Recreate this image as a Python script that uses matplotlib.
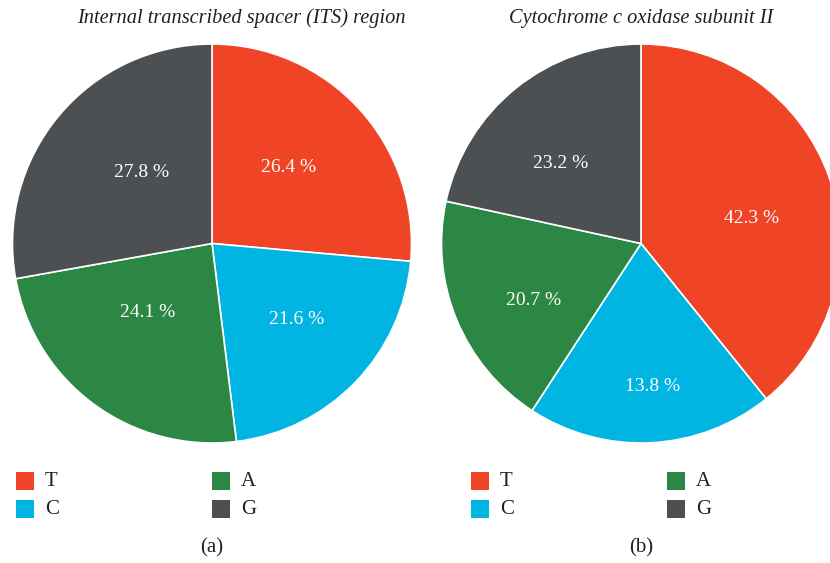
import numpy as np
import matplotlib
matplotlib.use("Agg")
import matplotlib.pyplot as plt
from matplotlib.patches import Rectangle

categories = ["T", "C", "A", "G"]
# ITS region: wedge sizes and printed labels agree
its_values = [26.4, 21.6, 24.1, 27.8]
its_labels = [26.4, 21.6, 24.1, 27.8]
# COX II: wedge sizes as drawn in the picture, and the printed labels
cox_values = [39.2, 20.0, 19.2, 21.6]
cox_labels = [42.3, 13.8, 20.7, 23.2]
titles = ["Internal transcribed spacer (ITS) region", "Cytochrome c oxidase subunit II"]
subcaptions = ["(a)", "(b)"]

colors = ["#EF4426", "#00B5E2", "#2B8743", "#4D5052"]
label_radius = [[0.54, 0.57, 0.47, 0.50], [0.57, 0.72, 0.61, 0.57]]
label_angle_adj = [[2.5, 2.4, -6.6, -5.2], [-6.8, 1.8, 5.7, 6.1]]

W, H = 830, 563
plt.rcParams['font.family'] = ['Liberation Serif', 'DejaVu Serif']
fig = plt.figure(figsize=(W / 100, H / 100), dpi=100)

centers_x = [212, 641]
cy = 243.5
R = 199.5
text_color = "#231F20"

for k, (vals, labs) in enumerate([(its_values, its_labels), (cox_values, cox_labels)]):
    cx = centers_x[k]
    ax = fig.add_axes([(cx - R) / W, (H - cy - R) / H, 2 * R / W, 2 * R / H])
    wedges, _ = ax.pie(vals, colors=colors, startangle=90, counterclock=False,
                       wedgeprops=dict(edgecolor="white", linewidth=1.2), radius=1.0)
    ax.set_xlim(-1, 1)
    ax.set_ylim(-1, 1)
    ax.set_aspect("equal")
    ax.axis("off")
    for i, w in enumerate(wedges):
        mid = np.deg2rad((w.theta1 + w.theta2) / 2 + label_angle_adj[k][i])
        r = label_radius[k][i]
        ax.text(r * np.cos(mid), r * np.sin(mid), f"{labs[i]:.1f} %", color="white",
                ha="center", va="center", fontsize=14)
    fig.text(cx / W + (29 / W if k == 0 else 0), 1 - 18 / H, titles[k], ha="center", va="center",
             fontsize=14.7, style="italic", color=text_color)
    fig.text(cx / W, 1 - 548 / H, subcaptions[k], ha="center", va="center",
             fontsize=15, color=text_color)
    # legend
    leg_x0 = [16, 471][k]
    col_dx = 196
    for i, cat in enumerate(categories):
        col, row = i // 2, i % 2
        x = leg_x0 + col * col_dx
        y = 472 + row * 28
        fig.add_artist(Rectangle((x / W, 1 - (y + 18) / H), 18 / W, 18 / H,
                                 transform=fig.transFigure, facecolor=colors[i],
                                 edgecolor="none"))
        fig.text((x + 29) / W, 1 - (y + 9) / H, cat, ha="left", va="center",
                 fontsize=15, color=text_color)

fig.savefig("out.png", dpi=100)
